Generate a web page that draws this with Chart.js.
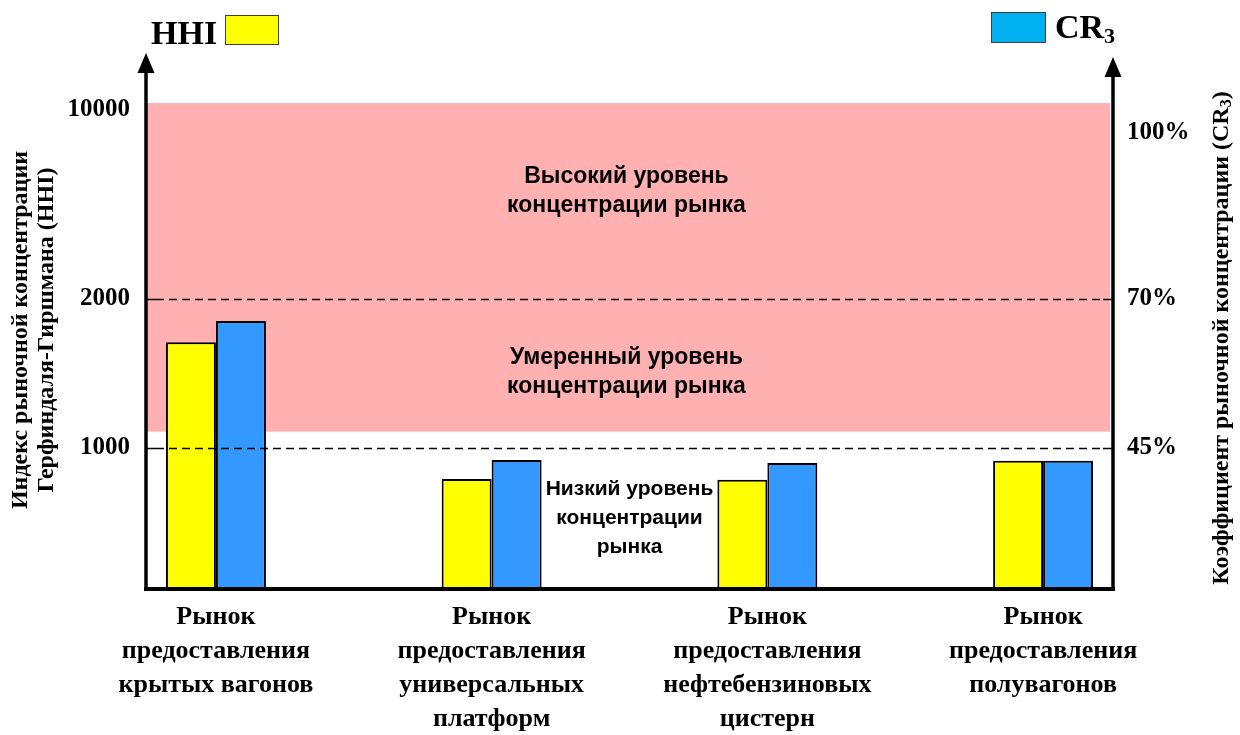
<!DOCTYPE html>
<html>
<head>
<meta charset="utf-8">
<script src="https://cdn.jsdelivr.net/npm/chart.js@4.4.1/dist/chart.umd.min.js"></script>
<style>
  html, body { margin: 0; padding: 0; background: #fff; }
  #wrap { width: 1240px; height: 735px; position: relative; }
</style>
</head>
<body>
<div id="wrap"><canvas id="chart"></canvas></div>
<script>
// ------------------------------------------------------------
// DATA
// ------------------------------------------------------------
var categories = [
  ['Рынок', 'предоставления', 'крытых вагонов'],
  ['Рынок', 'предоставления', 'универсальных', 'платформ'],
  ['Рынок', 'предоставления', 'нефтебензиновых', 'цистерн'],
  ['Рынок', 'предоставления', 'полувагонов']
];
var hhiValues = [1710, 780, 775, 910];     // индекс HHI
var cr3Values = [66.3, 41.2, 40.2, 40.9];  // CR3, %

var hhiTicks = [1000, 2000, 10000];
var hhiTickLabels = ['1000', '2000', '10000'];
var cr3Ticks = [45, 70, 100];
var cr3TickLabels = ['45%', '70%', '100%'];

var hhiThresholds = [1000, 2000];          // пунктирные границы
var zoneFrom = 1110;                       // низ розовой зоны (HHI)
var zoneLabels = [
  ['Высокий уровень', 'концентрации рынка'],
  ['Умеренный уровень', 'концентрации рынка'],
  ['Низкий уровень', 'концентрации', 'рынка']
];
var zoneLabelAt = [6550, 1510, 504];       // центр подписи (HHI)

// схема осей: значение -> доля высоты области графика (ось нелинейная)
var axisBreaks = {
  yH: [[0, 0], [1000, 0.2901], [2000, 0.5967], [10000, 0.9856], [10300, 1]],
  yC: [[0, 0], [45, 0.2901], [70, 0.5967], [100, 0.9383], [105.4, 1]]
};

// ------------------------------------------------------------
// piecewise-linear scale
// ------------------------------------------------------------
class SchematicScale extends Chart.LinearScale {
  getPixelForValue(v) {
    if (v === null || v === undefined || isNaN(v)) return NaN;
    var b = axisBreaks[this.id], i = 1;
    while (i < b.length - 1 && v > b[i][0]) i++;
    var a = b[i - 1], c = b[i];
    return this.getPixelForDecimal(a[1] + (v - a[0]) / (c[0] - a[0]) * (c[1] - a[1]));
  }
  getValueForPixel(p) {
    var d = this.getDecimalForPixel(p);
    var b = axisBreaks[this.id], i = 1;
    while (i < b.length - 1 && d > b[i][1]) i++;
    var a = b[i - 1], c = b[i];
    return a[0] + (d - a[1]) / (c[1] - a[1]) * (c[0] - a[0]);
  }
}
SchematicScale.id = 'schematic';
SchematicScale.defaults = Chart.LinearScale.defaults;
Chart.register(SchematicScale);

// категории с пустыми промежутками между группами
var labels = [], hhiData = [], cr3Data = [];
categories.forEach(function (c, i) {
  if (i > 0) { labels.push(''); hhiData.push(null); cr3Data.push(null); }
  labels.push(c); hhiData.push(hhiValues[i]); cr3Data.push(cr3Values[i]);
});

var SERIF = '"Liberation Serif", "Times New Roman", serif';
var SANS = '"Liberation Sans", Arial, sans-serif';

var decor = {
  id: 'decor',
  beforeDatasetsDraw: function (chart) {
    var ctx = chart.ctx, ca = chart.chartArea, yH = chart.scales.yH;
    ctx.save();
    ctx.fillStyle = '#FFB0B0';
    var y0 = yH.getPixelForValue(zoneFrom);
    ctx.fillRect(ca.left, ca.top, ca.right - ca.left - 2, y0 - ca.top);

    // подписи зон
    ctx.fillStyle = '#000';
    ctx.textAlign = 'center';
    ctx.textBaseline = 'middle';
    var cx = (ca.left + ca.right) / 2 - 3;
    // нижняя подпись — по центру промежутка между 2-й и 3-й группами
    var m0 = chart.getDatasetMeta(0).data, m1 = chart.getDatasetMeta(1).data;
    var gapL = m1[2].x + m1[2].width / 2, gapR = m0[4].x - m0[4].width / 2;
    zoneLabels.forEach(function (lines, k) {
      var yc = yH.getPixelForValue(zoneLabelAt[k]);
      var x = k === 2 ? (gapL + gapR) / 2 : cx;
      ctx.font = 'bold ' + (k === 2 ? 21 : 23) + 'px ' + SANS;
      lines.forEach(function (t, j) {
        ctx.fillText(t, x, yc + (j - (lines.length - 1) / 2) * 29);
      });
    });
    ctx.restore();
  },
  afterDatasetsDraw: function (chart) {
    var ctx = chart.ctx, ca = chart.chartArea, yH = chart.scales.yH;
    ctx.save();
    // пунктир
    hhiThresholds.forEach(function (v) {
      var y = Math.round(yH.getPixelForValue(v)) + 0.5;
      ctx.strokeStyle = '#000';
      ctx.lineWidth = 1.5;
      ctx.setLineDash([]);
      ctx.beginPath();
      ctx.moveTo(ca.left, y); ctx.lineTo(ca.left + 9, y);
      ctx.moveTo(ca.right - 9, y); ctx.lineTo(ca.right, y);
      ctx.stroke();
      ctx.setLineDash([8, 5]);
      ctx.beginPath();
      ctx.moveTo(ca.left + 9, y); ctx.lineTo(ca.right - 9, y);
      ctx.stroke();
    });
    ctx.setLineDash([]);

    // оси со стрелками
    ctx.strokeStyle = '#000';
    ctx.fillStyle = '#000';
    ctx.lineWidth = 4;
    ctx.beginPath();
    ctx.moveTo(ca.left - 3, ca.bottom); ctx.lineTo(ca.right + 3, ca.bottom);
    ctx.stroke();
    ctx.lineWidth = 3.5;
    [[ca.left - 1, 53], [ca.right + 1, 57]].forEach(function (a) {
      ctx.beginPath();
      ctx.moveTo(a[0], ca.bottom + 2); ctx.lineTo(a[0], a[1] + 16);
      ctx.stroke();
      ctx.beginPath();
      ctx.moveTo(a[0], a[1]);
      ctx.lineTo(a[0] + 8.5, a[1] + 20);
      ctx.lineTo(a[0] - 8.5, a[1] + 20);
      ctx.closePath();
      ctx.fill();
    });
    ctx.restore();
  },
  afterDraw: function (chart) {
    var ctx = chart.ctx;
    ctx.save();
    ctx.fillStyle = '#000';
    ctx.textBaseline = 'alphabetic';
    ctx.textAlign = 'left';

    // легенда HHI
    ctx.font = 'bold 34px ' + SERIF;
    ctx.fillText('HHI', 151, 44);
    ctx.fillStyle = '#FFFF00';
    ctx.strokeStyle = '#404040';
    ctx.lineWidth = 1;
    ctx.fillRect(225, 15, 53, 29);
    ctx.strokeRect(225.5, 15.5, 53, 29);

    // легенда CR3
    ctx.fillStyle = '#00B0F0';
    ctx.fillRect(991, 12, 54, 30);
    ctx.strokeRect(991.5, 12.5, 54, 30);
    ctx.fillStyle = '#000';
    ctx.font = 'bold 34px ' + SERIF;
    ctx.fillText('CR', 1055, 38);
    var w = ctx.measureText('CR').width;
    ctx.font = 'bold 22px ' + SERIF;
    ctx.fillText('3', 1055 + w, 43);

    // подпись левой оси
    ctx.font = 'bold 24px ' + SERIF;
    ctx.textAlign = 'center';
    ctx.textBaseline = 'middle';
    [['Индекс рыночной концентрации', 21], ['Герфиндаля-Гиршмана (HHI)', 47]].forEach(function (l) {
      ctx.save();
      ctx.translate(l[1], 330);
      ctx.rotate(-Math.PI / 2);
      ctx.fillText(l[0], 0, 0);
      ctx.restore();
    });

    // подпись правой оси с индексом
    var parts = [['Коэффициент рыночной концентрации (CR', 24, 0], ['3', 16, 5], [')', 24, 0]];
    ctx.textAlign = 'left';
    var total = 0;
    parts.forEach(function (p) { ctx.font = 'bold ' + p[1] + 'px ' + SERIF; p.push(ctx.measureText(p[0]).width); total += p[3]; });
    ctx.save();
    ctx.translate(1222, 338);
    ctx.rotate(-Math.PI / 2);
    var x = -total / 2;
    parts.forEach(function (p) {
      ctx.font = 'bold ' + p[1] + 'px ' + SERIF;
      ctx.fillText(p[0], x, p[2]);
      x += p[3];
    });
    ctx.restore();
    ctx.restore();
  }
};

var tickFont = { family: SERIF, size: 25, weight: 'bold' };

new Chart(document.getElementById('chart'), {
  type: 'bar',
  data: {
    labels: labels,
    datasets: [
      { label: 'HHI', data: hhiData, yAxisID: 'yH', backgroundColor: '#FFFF00', borderColor: '#000', borderWidth: 2, borderSkipped: 'start', categoryPercentage: 0.725, barPercentage: 1 },
      { label: 'CR3', data: cr3Data, yAxisID: 'yC', backgroundColor: '#3399FF', borderColor: '#000', borderWidth: 2, borderSkipped: 'start', categoryPercentage: 0.725, barPercentage: 1 }
    ]
  },
  options: {
    responsive: true,
    maintainAspectRatio: false,
    animation: false,
    layout: { padding: { top: 103, left: 0, right: 0, bottom: 0 } },
    plugins: { legend: { display: false }, tooltip: { enabled: false } },
    scales: {
      x: {
        type: 'category',
        grid: { display: false, drawTicks: false },
        border: { display: false },
        ticks: { autoSkip: false, maxRotation: 0, minRotation: 0, padding: 11, color: '#000', font: { family: SERIF, size: 26, weight: 'bold', lineHeight: '34px' } },
        afterFit: function (s) { s.height = 146; }
      },
      yH: {
        type: 'schematic', position: 'left', min: 0, max: 10300,
        grid: { display: false, drawTicks: false },
        border: { display: false },
        afterBuildTicks: function (s) { s.ticks = hhiTicks.map(function (v) { return { value: v }; }); },
        ticks: { padding: 17, color: '#000', font: tickFont, callback: function (v) { return hhiTickLabels[hhiTicks.indexOf(v)]; } },
        afterFit: function (s) { s.width = 147; }
      },
      yC: {
        type: 'schematic', position: 'right', min: 0, max: 105.4,
        grid: { display: false, drawTicks: false },
        border: { display: false },
        afterBuildTicks: function (s) { s.ticks = cr3Ticks.map(function (v) { return { value: v }; }); },
        ticks: { padding: 15, color: '#000', font: tickFont, callback: function (v) { return cr3TickLabels[cr3Ticks.indexOf(v)]; } },
        afterFit: function (s) { s.width = 128; }
      }
    }
  },
  plugins: [decor]
});
</script>
</body>
</html>
